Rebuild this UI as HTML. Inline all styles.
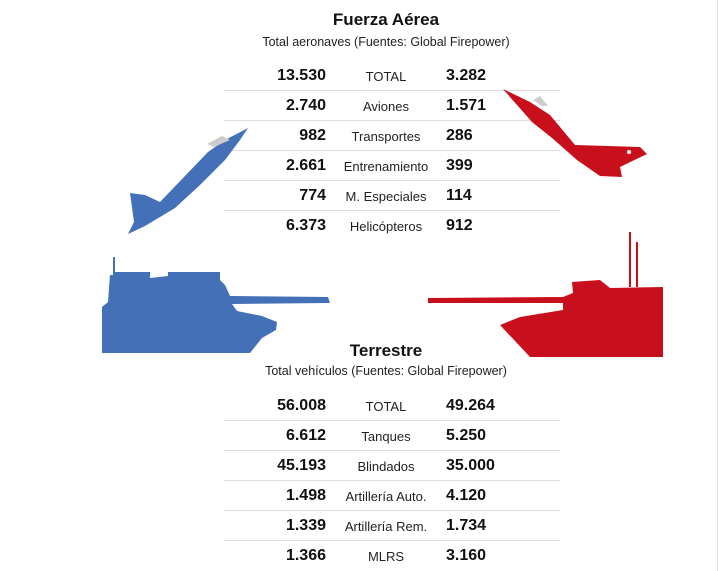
<!DOCTYPE html>
<html><head><meta charset="utf-8"><style>
body{margin:0;width:720px;height:571px;background:#fff;position:relative;overflow:hidden;font-family:"Liberation Sans",Arial,sans-serif;color:#111}
.t{position:absolute;white-space:nowrap}
.h{font-weight:bold;font-size:17px;left:0;width:772px;text-align:center}
.s{font-size:12.5px;left:0;width:772px;text-align:center;color:#222}
.l{font-weight:bold;font-size:16px;right:394px;text-align:right}
.c{font-size:13px;left:286px;width:200px;text-align:center;color:#222}
.r{font-weight:bold;font-size:16px;left:446px}
.ln{position:absolute;left:224px;width:336px;height:1px;background:#ddd}
</style></head><body>
<div style="position:absolute;left:717px;top:0;width:1px;height:571px;background:#e4e4e4"></div>
<div class="ln" style="top:90px"></div>
<div class="ln" style="top:120px"></div>
<div class="ln" style="top:150px"></div>
<div class="ln" style="top:180px"></div>
<div class="ln" style="top:210px"></div>
<svg width="720" height="571" style="position:absolute;left:0;top:0">
<g fill="#4470b8">
<polygon points="248,128 225,140 208,152 160,202 145,195 130,193 134,222 128,234 145,226 175,208 200,185 225,160 240,140"/>
<polygon points="102,353 102,307 108,302 110,275 113,275 113,257 115,257 115,272 150,272 150,278 168,276 168,272 220,272 220,280 225,285 230,296 328,297 330,303 232,304 237,311 262,316 277,322 276,330 262,338 250,353"/>
</g>
<path d="M207,144 L222,136 L230,140 L214,147 Z" fill="#ccc"/>
<g fill="#c8101c">
<polygon points="503,89 530,102 550,115 575,145 640,147 647,154 620,167 622,177 600,176 577,160 552,138 532,122"/>
<polygon points="428,298 563,297 573,293 572,282 600,280 610,288 663,287 663,357 530,357 500,325 520,317 563,310 563,303 428,303"/>
<rect x="629" y="232" width="2" height="55"/>
<rect x="636" y="242" width="2" height="45"/>
</g>
<path d="M533,100 L540,96 L548,106 L542,106 Z" fill="#ccc"/>
<circle cx="629" cy="152" r="2" fill="#fff"/>
</svg>
<div class="t h" style="top:10px">Fuerza Aérea</div>
<div class="t s" style="top:35px">Total aeronaves (Fuentes: Global Firepower)</div>

<div class="t l" style="top:67px">13.530</div><div class="t c" style="top:69px">TOTAL</div><div class="t r" style="top:67px">3.282</div>
<div class="t l" style="top:97px">2.740</div><div class="t c" style="top:99px">Aviones</div><div class="t r" style="top:97px">1.571</div>
<div class="t l" style="top:127px">982</div><div class="t c" style="top:129px">Transportes</div><div class="t r" style="top:127px">286</div>
<div class="t l" style="top:157px">2.661</div><div class="t c" style="top:159px">Entrenamiento</div><div class="t r" style="top:157px">399</div>
<div class="t l" style="top:187px">774</div><div class="t c" style="top:189px">M. Especiales</div><div class="t r" style="top:187px">114</div>
<div class="t l" style="top:217px">6.373</div><div class="t c" style="top:219px">Helicópteros</div><div class="t r" style="top:217px">912</div>

<div class="t h" style="top:341px">Terrestre</div>
<div class="t s" style="top:364px">Total vehículos (Fuentes: Global Firepower)</div>

<div class="t l" style="top:397px">56.008</div><div class="t c" style="top:399px">TOTAL</div><div class="t r" style="top:397px">49.264</div>
<div class="ln" style="top:420px"></div>
<div class="t l" style="top:427px">6.612</div><div class="t c" style="top:429px">Tanques</div><div class="t r" style="top:427px">5.250</div>
<div class="ln" style="top:450px"></div>
<div class="t l" style="top:457px">45.193</div><div class="t c" style="top:459px">Blindados</div><div class="t r" style="top:457px">35.000</div>
<div class="ln" style="top:480px"></div>
<div class="t l" style="top:487px">1.498</div><div class="t c" style="top:489px">Artillería Auto.</div><div class="t r" style="top:487px">4.120</div>
<div class="ln" style="top:510px"></div>
<div class="t l" style="top:517px">1.339</div><div class="t c" style="top:519px">Artillería Rem.</div><div class="t r" style="top:517px">1.734</div>
<div class="ln" style="top:540px"></div>
<div class="t l" style="top:547px">1.366</div><div class="t c" style="top:549px">MLRS</div><div class="t r" style="top:547px">3.160</div>
</body></html>
